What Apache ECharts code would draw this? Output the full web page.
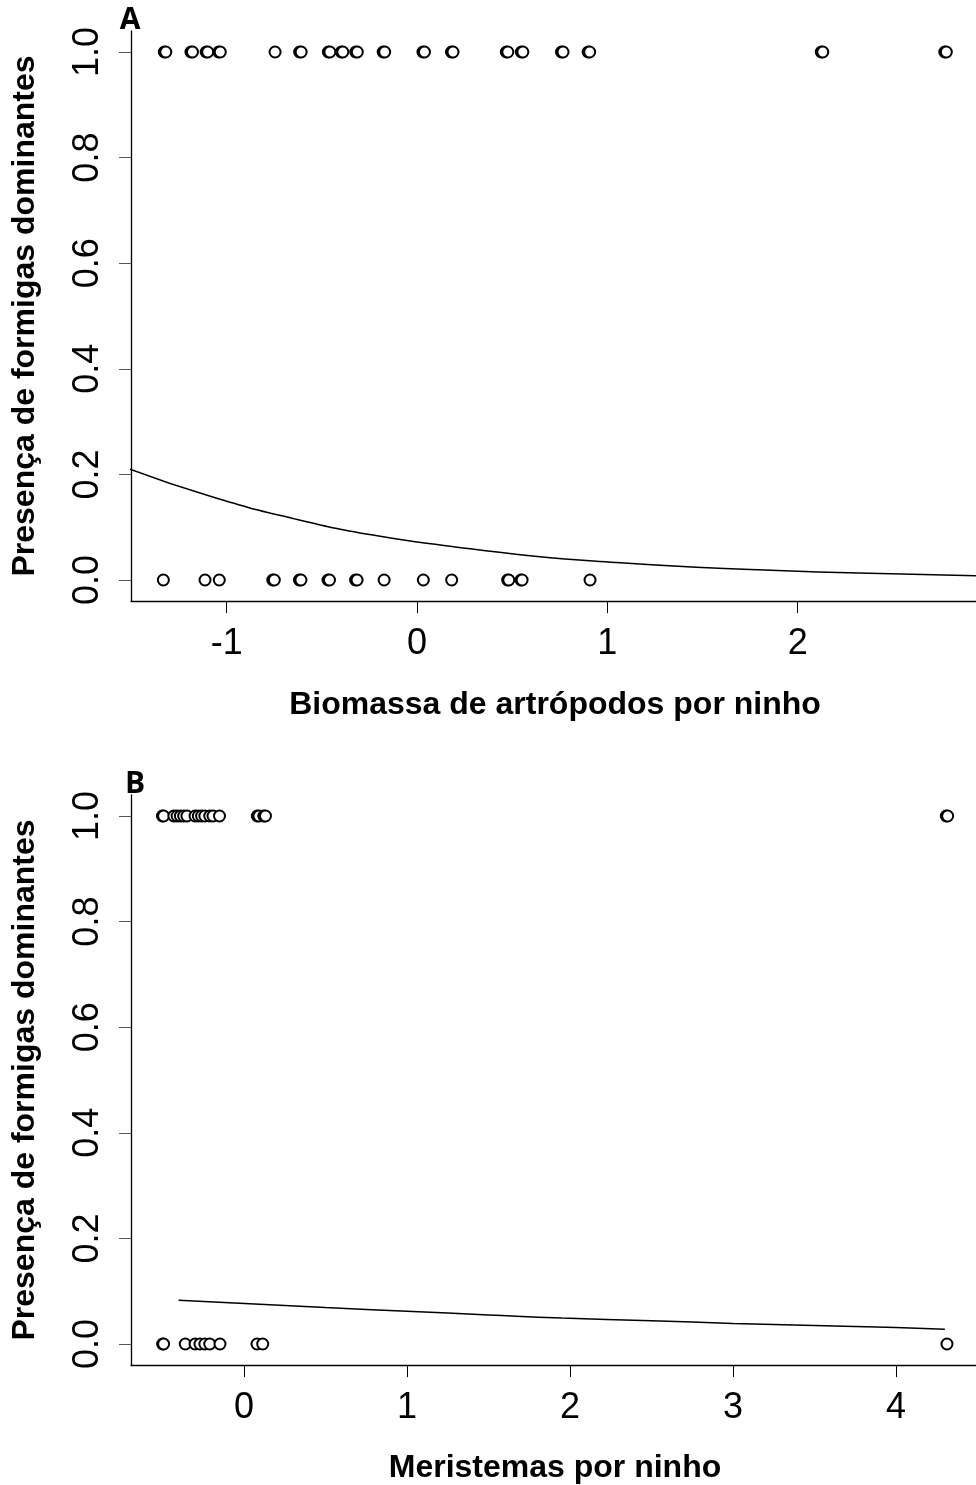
<!DOCTYPE html>
<html>
<head>
<meta charset="utf-8">
<script src="https://cdn.jsdelivr.net/npm/echarts@6/dist/echarts.min.js"></script>
<style>
  html, body { margin: 0; padding: 0; background: #fff; }
  #chart { width: 976px; height: 1485px; }
</style>
</head>
<body>
<div id="chart"></div>
<script>
// painel A: biomassa de artrópodos (x) para presença = 1 e presença = 0
var bioPresente = [-1.328, -1.32, -1.188, -1.18, -1.108, -1.10, -1.042, -1.034, -0.746,
  -0.617, -0.609, -0.466, -0.458, -0.398, -0.39, -0.322, -0.314, -0.178, -0.17,
  0.031, 0.039, 0.181, 0.189, 0.469, 0.477, 0.548, 0.556, 0.759, 0.767, 0.899, 0.907,
  2.124, 2.132, 2.773, 2.781];
var bioAusente = [-1.333, -1.114, -1.039, -0.758, -0.75, -0.618, -0.61, -0.468, -0.46,
  -0.323, -0.315, -0.173, 0.033, 0.182, 0.476, 0.482, 0.546, 0.552, 0.909];
// curva ajustada
var bioCurvaX = [-1.508, -1.082, -0.657, -0.232, 0.193, 0.619, 1.044, 1.469, 1.895, 2.32, 2.937];
var bioCurvaY = [0.210, 0.158, 0.117, 0.085, 0.063, 0.045, 0.033, 0.024, 0.018, 0.013, 0.008];

// painel B: meristemas por ninho
var merPresente = [-0.50, -0.493, -0.43, -0.41, -0.39, -0.37, -0.35, -0.30, -0.28, -0.26,
  -0.24, -0.21, -0.19, -0.15, 0.082, 0.092, 0.122, 0.132, 4.309, 4.317];
var merAusente = [-0.499, -0.493, -0.36, -0.30, -0.27, -0.24, -0.21, -0.147, 0.08, 0.115, 4.313];
var merCurvaX = [-0.401, 0.5, 1.0, 1.5, 1.949, 2.5, 3.0, 3.5, 4.0, 4.30];
var merCurvaY = [0.083, 0.069, 0.062, 0.055, 0.049, 0.044, 0.039, 0.035, 0.031, 0.028];

var yTicks = [0, 0.2, 0.4, 0.6, 0.8, 1.0];
var bioTicks = [-1, 0, 1, 2];
var merTicks = [0, 1, 2, 3, 4];

var tituloY = 'Presença de formigas dominantes';
var tituloXA = 'Biomassa de artrópodos por ninho';
var tituloXB = 'Meristemas por ninho';

function pares(xs, y) {
  return xs.map(function (x) { return [x, y]; });
}
function curva(xs, ys) {
  return xs.map(function (x, i) { return [x, ys[i]]; });
}

var fonteNum = 'Liberation Sans, Arial, sans-serif';

function eixoX(idx, min, max, ticks) {
  return {
    type: 'value', gridIndex: idx, min: min, max: max,
    splitLine: { show: false },
    axisLine: { show: true, onZero: false, lineStyle: { color: '#000', width: 1.3 } },
    axisTick: { show: true, length: 12, customValues: ticks, lineStyle: { color: '#000', width: 1 } },
    axisLabel: { customValues: ticks, margin: 25, fontSize: 36, color: '#000', fontFamily: fonteNum }
  };
}
function eixoY(idx) {
  return {
    type: 'value', gridIndex: idx, min: -0.04, max: 1.04,
    splitLine: { show: false },
    axisLine: { show: true, onZero: false, lineStyle: { color: '#000', width: 1.3 } },
    axisTick: { show: true, length: 12, customValues: yTicks, lineStyle: { color: '#555', width: 1 } },
    axisLabel: {
      customValues: yTicks, rotate: 90, margin: 25, fontSize: 36, color: '#000', fontFamily: fonteNum,
      formatter: function (v) { return v.toFixed(1); }
    }
  };
}
function pontos(idx, data) {
  return {
    type: 'scatter', xAxisIndex: idx, yAxisIndex: idx, data: data,
    symbol: 'emptyCircle', symbolSize: 11,
    itemStyle: { color: '#000', borderColor: '#000', borderWidth: 3, opacity: 1 },
    emphasis: { disabled: true }
  };
}
function linha(idx, data) {
  return {
    type: 'line', xAxisIndex: idx, yAxisIndex: idx, data: data,
    smooth: true, showSymbol: false, symbol: 'none',
    lineStyle: { color: '#000', width: 1.5 }
  };
}
function texto(x, y, t, rot, size, fam) {
  return {
    type: 'text', x: x, y: y, rotation: rot || 0,
    style: {
      text: t, fontSize: size || 32, fontWeight: 'bold', fill: '#000',
      fontFamily: fam || fonteNum, textAlign: 'center', textVerticalAlign: 'middle'
    }
  };
}

var chart = echarts.init(document.getElementById('chart'), null, { renderer: 'canvas' });
chart.setOption({
  animation: false,
  backgroundColor: '#fff',
  grid: [
    { left: 131, top: 30.9, width: 845, height: 570.2 },
    { left: 131, top: 794.9, width: 845, height: 570.2 }
  ],
  xAxis: [
    eixoX(0, -1.503, 2.937, bioTicks),
    eixoX(1, -0.693, 4.491, merTicks)
  ],
  yAxis: [eixoY(0), eixoY(1)],
  series: [
    linha(0, curva(bioCurvaX, bioCurvaY)),
    pontos(0, pares(bioPresente, 1)),
    pontos(0, pares(bioAusente, 0)),
    linha(1, curva(merCurvaX, merCurvaY)),
    pontos(1, pares(merPresente, 1)),
    pontos(1, pares(merAusente, 0))
  ],
  graphic: [
    texto(25, 316, tituloY, Math.PI / 2),
    texto(25, 1080, tituloY, Math.PI / 2),
    texto(555, 705, tituloXA),
    texto(555, 1468, tituloXB),
    texto(130, 20, 'A', 0, 30, 'Open Sans, sans-serif'),
    texto(135, 784, 'B', 0, 30, 'Open Sans, sans-serif')
  ]
});
</script>
</body>
</html>
